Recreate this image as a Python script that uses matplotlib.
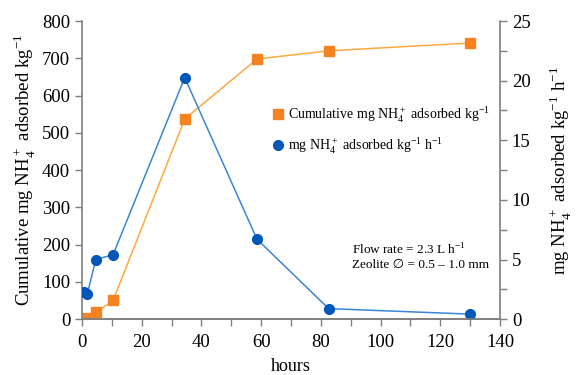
import numpy as np
import matplotlib.pyplot as plt
from matplotlib.ticker import MultipleLocator

plt.rcParams['font.family'] = ['Liberation Serif', 'DejaVu Sans']
plt.rcParams['mathtext.fontset'] = 'custom'
plt.rcParams['mathtext.rm'] = 'Liberation Serif'

hours = [0.5, 1.8, 4.6, 10.4, 34.4, 58.6, 82.6, 130.0]
cumulative = [0, 2, 18, 50, 537, 698, 720, 741]
rate = [2.28, 2.13, 5.0, 5.4, 20.25, 6.7, 0.88, 0.42]

orange_mk = '#F58220'
orange_ln = '#FFA940'
blue_mk = '#0057B8'
blue_ln = '#3A86D4'

fig = plt.figure(figsize=(5.76, 3.75), dpi=100)
ax = fig.add_axes([0.1424, 0.149, 0.7257, 0.795])
ax2 = ax.twinx()

l1, = ax.plot(hours, cumulative, color=orange_ln, lw=1.1, marker='s', ms=7,
              mfc=orange_mk, mec=orange_mk, label='Cumulative mg NH$_4^+$ adsorbed kg$^{-1}$')
l2, = ax2.plot(hours, rate, color=blue_ln, lw=1.1, marker='o', ms=7,
               mfc=blue_mk, mec=blue_mk, label='mg NH$_4^+$ adsorbed kg$^{-1}$ h$^{-1}$')

ax.set_xlim(0, 140)
ax.set_ylim(0, 800)
ax2.set_ylim(0, 25)
ax.xaxis.set_major_locator(MultipleLocator(20))
ax.xaxis.set_minor_locator(MultipleLocator(10))
ax.yaxis.set_major_locator(MultipleLocator(100))
ax2.yaxis.set_major_locator(MultipleLocator(5))
ax2.yaxis.set_minor_locator(MultipleLocator(2.5))

for a in (ax, ax2):
    a.spines['top'].set_visible(False)
    a.tick_params(which='both', color='#7f7f7f', labelsize=13.5, width=1, length=5)
    for s in a.spines.values():
        s.set_color('#7f7f7f')
        s.set_linewidth(1.2)
ax.tick_params(axis='x', pad=6)
ax.spines['right'].set_visible(False)
ax2.spines['left'].set_visible(False)

ax.set_xlabel('hours', fontsize=13, labelpad=5)
ax.set_ylabel('Cumulative mg NH$_4^+$ adsorbed kg$^{-1}$', fontsize=13.5, labelpad=3)
ax2.set_ylabel('mg NH$_4^+$ adsorbed kg$^{-1}$ h$^{-1}$', fontsize=13.5, labelpad=12)

ax2.legend(handles=[l1, l2], loc='center left', bbox_to_anchor=(0.43, 0.634), frameon=False,
           fontsize=10, handlelength=0.6, handletextpad=0.4, labelspacing=0.7,
           markerscale=1.0)
for h in ax2.get_legend().legend_handles:
    h.set_linestyle('none')

ax2.text(0.646, 0.258, 'Flow rate = 2.3 L h$^{-1}$\nZeolite \u2205 = 0.5 \u2013 1.0 mm',
         transform=ax2.transAxes, fontsize=9.5, va='top', ha='left', linespacing=1.15)

fig.savefig('out.png', dpi=100)
